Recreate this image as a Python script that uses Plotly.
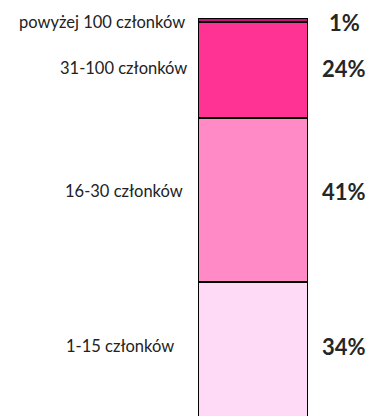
import plotly.graph_objects as go

# Share of groups by membership size (bottom to top of the stacked bar)
categories = ["1-15 członków", "16-30 członków", "31-100 członków", "powyżej 100 członków"]
shares = [34, 41, 24, 1]
colors = ["#FFDAF6", "#FF8AC5", "#FF3393", "#C8107E"]

# vertical nudges (px) for the side labels of each segment
label_shift = [4, 9, 2, -2]
name_right_edge = [176, 185, 189, 187]  # px from left edge of the page

W, H = 369, 416
L, R, T, B = 198, 61, 18, 0
plot_w = W - L - R

fig = go.Figure()
for cat, val, col in zip(categories, shares, colors):
    fig.add_trace(go.Bar(
        x=[0], y=[val], name=cat, width=1,
        marker=dict(color=col, line=dict(color="#000000", width=1.8)),
        hoverinfo="skip", showlegend=False,
    ))

annotations = []
base = 0
for i, (cat, val) in enumerate(zip(categories, shares)):
    mid = base + val / 2
    base += val
    annotations.append(dict(
        x=(name_right_edge[i] - L) / plot_w, xref="paper", xanchor="right",
        y=mid, yref="y", yanchor="middle", yshift=label_shift[i],
        text=cat, showarrow=False,
        font=dict(family="Lato, Open Sans, sans-serif", size=16.5, color="#222222"),
    ))
    annotations.append(dict(
        x=(344 - L) / plot_w, xref="paper", xanchor="center",
        y=mid, yref="y", yanchor="middle", yshift=label_shift[i],
        text=f"<b>{val}%</b>", showarrow=False,
        font=dict(family="Lato, Open Sans, sans-serif", size=22, color="#262626"),
    ))

fig.update_layout(
    barmode="stack",
    width=W, height=H,
    margin=dict(l=L, r=R, t=T, b=B, pad=0),
    paper_bgcolor="white", plot_bgcolor="white",
    xaxis=dict(range=[-0.5, 0.5], visible=False, fixedrange=True),
    yaxis=dict(range=[100 - (H - T - B) / 4, 100], visible=False, fixedrange=True),
    annotations=annotations,
)

fig.write_html("out.html")
